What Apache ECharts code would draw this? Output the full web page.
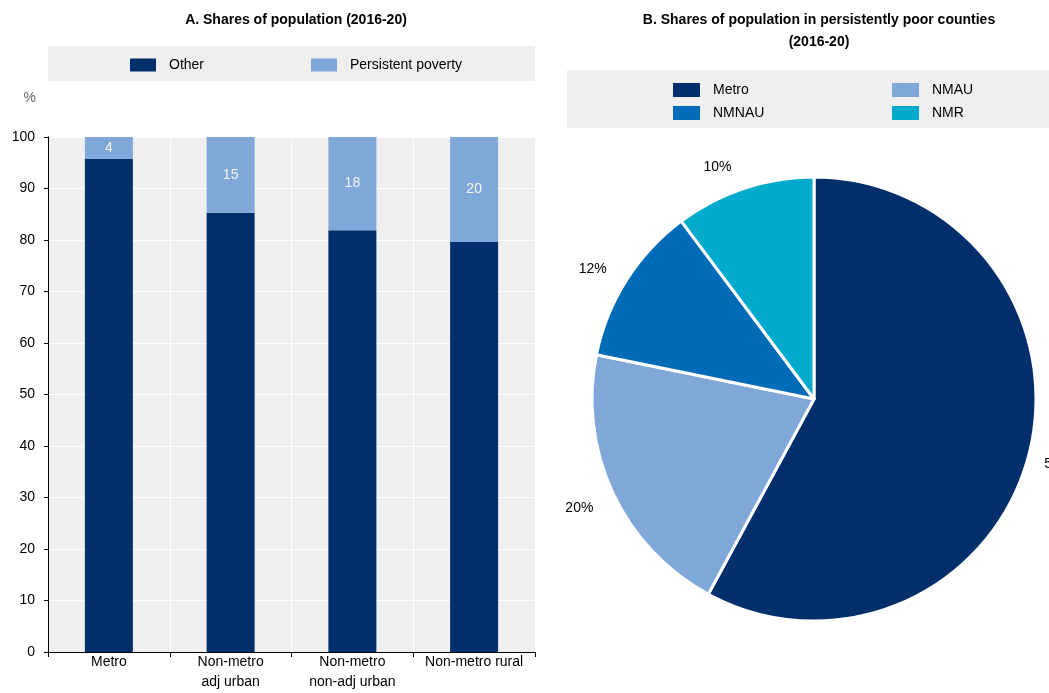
<!DOCTYPE html>
<html><head><meta charset="utf-8">
<script src="https://cdn.jsdelivr.net/npm/echarts@6/dist/echarts.min.js"></script>
<style>html,body{margin:0;padding:0;background:#fff}#c{width:1049px;height:693px}</style>
</head><body><div id="c"></div>
<script>
const categories = ['Metro', 'Non-metro\nadj urban', 'Non-metro\nnon-adj urban', 'Non-metro rural'];
const otherShare = [95.8, 85.3, 81.9, 79.6];
const povertyShare = [4.2, 14.7, 18.1, 20.4];
const yTicks = [0, 10, 20, 30, 40, 50, 60, 70, 80, 90, 100];
const pieNames = ['Metro', 'NMAU', 'NMNAU', 'NMR'];
const pieValues = [57.9, 20.3, 11.6, 10.2];

const FONT = "'Liberation Sans Narrow', 'Arial Narrow', 'Liberation Sans', sans-serif";
const C_OTHER = '#002f6c', C_POV = '#7fa8d9', C_NMNAU = '#006bb6', C_NMR = '#00aacc';
const BG = '#efefef';

const chart = echarts.init(document.getElementById('c'), null, {renderer: 'canvas'});
const pieColors = [C_OTHER, C_POV, C_NMNAU, C_NMR];
const pieLen2 = [-16, -10, -8, -1];

const legText = {fontFamily: FONT, fontSize: 14, color: '#000', padding: [0, 0, 0, 8]};
const legItem = {borderWidth: 0};

chart.setOption({
  animation: false,
  textStyle: {fontFamily: FONT},
  title: [
    {text: 'A. Shares of population (2016-20)', left: 291, top: 8, textAlign: 'center',
     textStyle: {fontFamily: FONT, fontSize: 14, fontWeight: 'bold', color: '#000'}},
    {text: 'B. Shares of population in persistently poor counties\n(2016-20)', left: 814, top: 4, textAlign: 'center',
     textStyle: {fontFamily: FONT, fontSize: 14, fontWeight: 'bold', color: '#000', lineHeight: 22}}
  ],
  legend: [
    {data: ['Other'], left: 48, top: 46, orient: 'horizontal', selectedMode: false,
     backgroundColor: BG, padding: [12, 331, 9, 82], itemWidth: 26, itemHeight: 13,
     icon: 'rect', textStyle: legText, itemStyle: legItem},
    {data: ['Persistent poverty'], left: 311, top: 58, orient: 'horizontal', selectedMode: false,
     padding: 0, itemWidth: 26, itemHeight: 13, icon: 'rect', textStyle: legText, itemStyle: legItem},
    {data: ['Metro', 'NMNAU'], left: 567, top: 70, orient: 'vertical', selectedMode: false,
     backgroundColor: BG, padding: [13, 330, 8, 106], itemWidth: 27, itemHeight: 14, itemGap: 9,
     icon: 'rect', textStyle: legText, itemStyle: legItem},
    {data: ['NMAU', 'NMR'], left: 892, top: 83, orient: 'vertical', selectedMode: false,
     padding: 0, itemWidth: 27, itemHeight: 14, itemGap: 9,
     icon: 'rect', textStyle: legText, itemStyle: legItem}
  ],
  grid: {left: 48, top: 137, width: 487, height: 515, show: true, backgroundColor: BG, borderWidth: 0,
         containLabel: false, outerBoundsMode: 'none'},
  xAxis: {
    type: 'category', data: categories,
    axisLine: {lineStyle: {color: '#000', width: 1}},
    axisTick: {show: true, length: 5, lineStyle: {color: '#000'}},
    splitLine: {show: true, lineStyle: {color: '#fff', width: 1}},
    axisLabel: {fontFamily: FONT, fontSize: 14, color: '#000', margin: 0, lineHeight: 20, interval: 0}
  },
  yAxis: {
    type: 'value', min: 0, max: 100, interval: 10,
    name: '%', nameLocation: 'end', nameGap: 32,
    nameTextStyle: {fontFamily: FONT, fontSize: 14, color: '#666', align: 'right', padding: [0, 12, 0, 0]},
    axisLine: {show: true, lineStyle: {color: '#000', width: 1}},
    axisTick: {show: true, length: 4, lineStyle: {color: '#000'}},
    splitLine: {show: true, lineStyle: {color: '#fff', width: 1}},
    axisLabel: {fontFamily: FONT, fontSize: 14, color: '#000', margin: 13,
      formatter: v => yTicks.includes(v) ? String(v) : ''}
  },
  series: [
    {name: 'Other', type: 'bar', stack: 's', data: otherShare, barWidth: 48,
     itemStyle: {color: C_OTHER}},
    {name: 'Persistent poverty', type: 'bar', stack: 's', data: povertyShare, barWidth: 48,
     itemStyle: {color: C_POV},
     label: {show: true, position: 'inside', color: '#f4f4f4', fontFamily: FONT, fontSize: 14,
       formatter: p => String(Math.round(p.value))}},
    {name: 'pie', type: 'pie', center: [814, 399], radius: 222, startAngle: 90, clockwise: true,
     avoidLabelOverlap: false,
     data: pieNames.map((n, i) => ({name: n, value: pieValues[i], itemStyle: {color: pieColors[i]},
       labelLine: {length: 27, length2: pieLen2[i]}})),
     itemStyle: {borderColor: '#fff', borderWidth: 3},
     label: {show: true, position: 'outside', fontFamily: FONT, fontSize: 14, color: '#000',
       formatter: p => '{s| }\n{v|' + Math.round(p.value) + '%}',
       rich: {s: {fontSize: 4, lineHeight: 8, height: 8},
              v: {fontFamily: FONT, fontSize: 14, color: '#000', lineHeight: 16}}},
     labelLine: {show: false, length: 27, length2: 5},
     emphasis: {disabled: true}}
  ]
});
</script></body></html>
